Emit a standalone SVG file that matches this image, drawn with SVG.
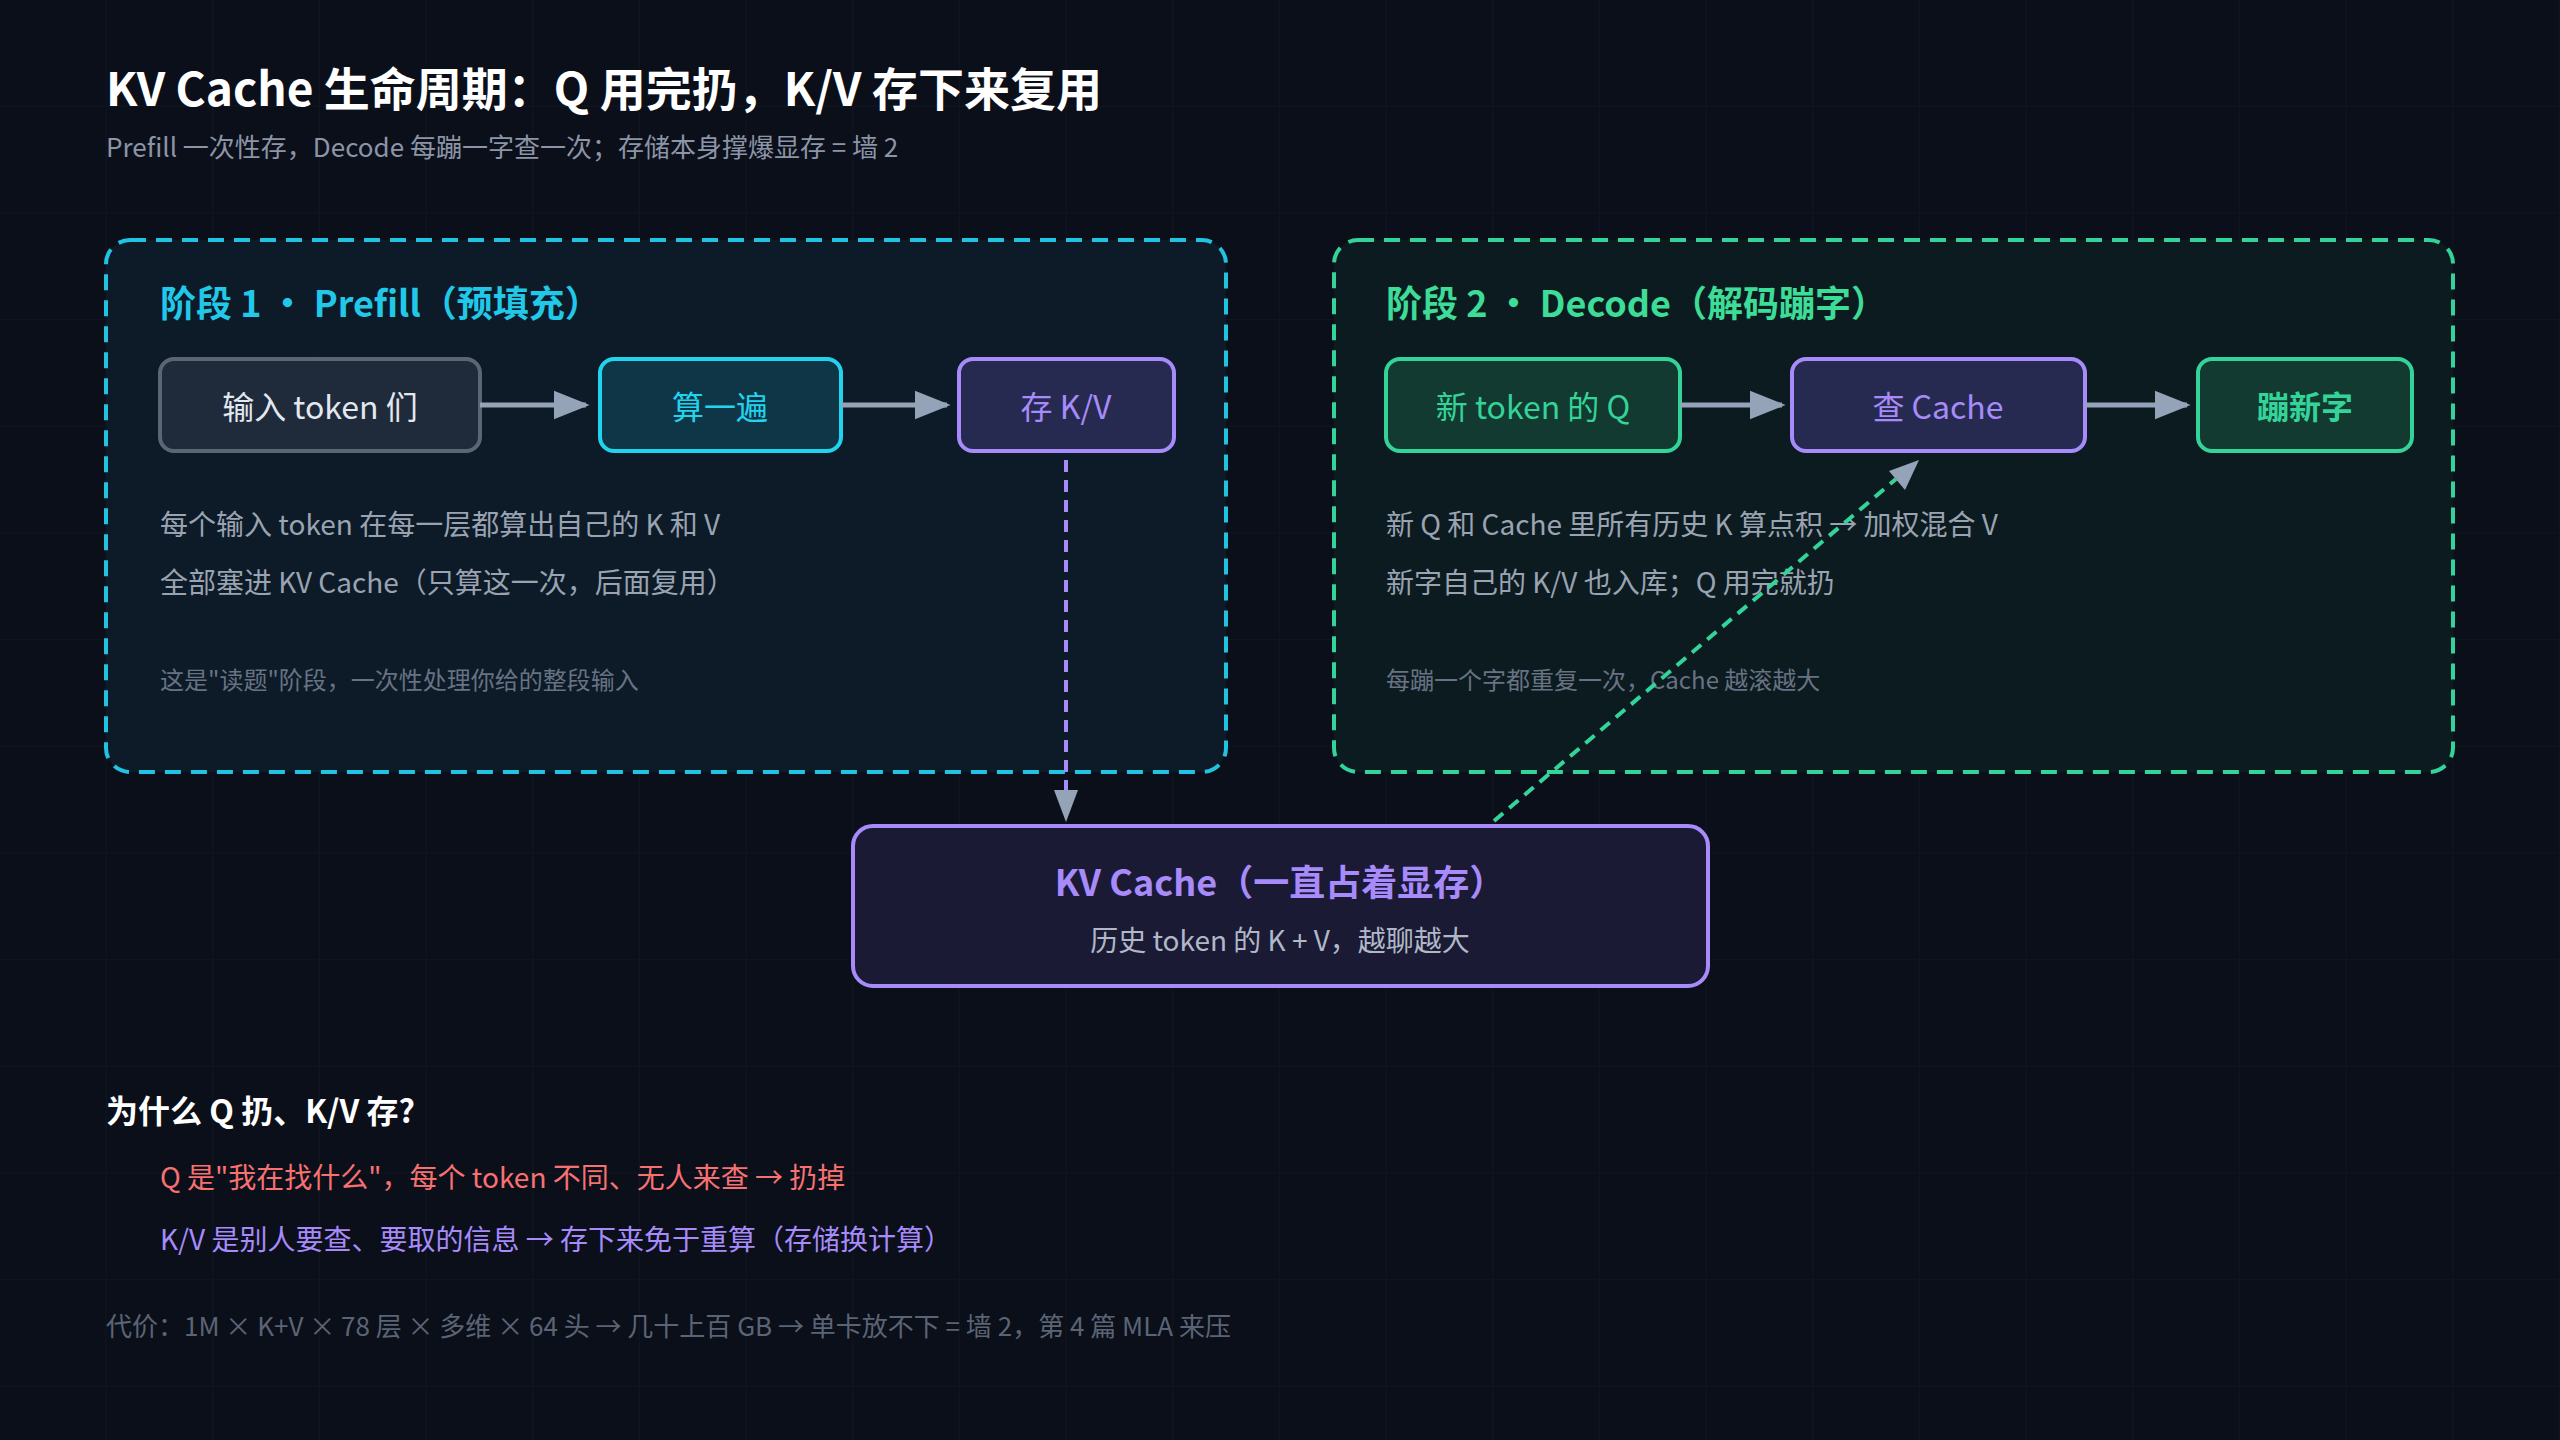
<svg xmlns="http://www.w3.org/2000/svg" width="2560" height="1440" viewBox="0 0 2560 1440">
<defs>
<pattern id="grid" width="106.67" height="106.67" patternUnits="userSpaceOnUse"><path d="M106.67 0V106.67H0" fill="none" stroke="#ffffff" stroke-opacity="0.025" stroke-width="2"/></pattern>
<marker id="ah" viewBox="0 0 10 10" refX="9" refY="5" markerWidth="6" markerHeight="6" markerUnits="userSpaceOnUse" orient="auto"><path d="M0 0L10 5L0 10Z" fill="#94a3b8"/></marker>
<marker id="ahb" viewBox="0 0 10 10" refX="9" refY="5" markerWidth="36" markerHeight="36" markerUnits="userSpaceOnUse" orient="auto"><path d="M0 1L10 5L0 9Z" fill="#94a3b8"/></marker>
<style>
text{font-family:"Noto Sans CJK SC","Noto Sans",sans-serif;dominant-baseline:central}
.box{stroke-width:4}
.lbl{font-size:32px;text-anchor:middle}
.body{font-size:28px;fill:#9aa3b2}
.note{font-size:24px;fill:#687283}
.arrow{stroke:#94a3b8;stroke-width:5;fill:none}
</style>
</defs>
<rect width="2560" height="1440" fill="#0b0f1a"/>
<rect width="2560" height="1440" fill="url(#grid)"/>
<g id="header">
<text x="106" y="86" font-size="46" font-weight="700" fill="#ffffff">KV Cache 生命周期：Q 用完扔，K/V 存下来复用</text>
<text x="106" y="145" font-size="26" fill="#8b95a7">Prefill 一次性存，Decode 每蹦一字查一次；存储本身撑爆显存 = 墙 2</text>
</g>
<g id="phase1">
<rect x="106" y="240" width="1120" height="532" rx="24" fill="#0c1e2a" fill-opacity="0.8" stroke="#22c3e0" stroke-width="4" stroke-dasharray="16 10"/>
<text x="160" y="301" font-size="36" font-weight="700" fill="#22c8e8">阶段 1 · Prefill（预填充）</text>
<text x="160" y="523" class="body">每个输入 token 在每一层都算出自己的 K 和 V</text>
<text x="160" y="581" class="body">全部塞进 KV Cache（只算这一次，后面复用）</text>
<text x="160" y="678" class="note">这是"读题"阶段，一次性处理你给的整段输入</text>
</g>
<g id="phase2">
<rect x="1334" y="240" width="1119" height="532" rx="24" fill="#0c1e22" fill-opacity="0.8" stroke="#34d399" stroke-width="4" stroke-dasharray="16 10"/>
<text x="1386" y="301" font-size="36" font-weight="700" fill="#3ddc97">阶段 2 · Decode（解码蹦字）</text>
<text x="1386" y="523" class="body">新 Q 和 Cache 里所有历史 K 算点积 → 加权混合 V</text>
<text x="1386" y="581" class="body">新字自己的 K/V 也入库；Q 用完就扔</text>
<text x="1386" y="678" class="note">每蹦一个字都重复一次，Cache 越滚越大</text>
</g>
<g id="input-tokens"><rect class="box" x="160" y="359" width="320" height="92" rx="14" fill="#1f2a3a" stroke="#5b6675"/><text class="lbl" x="320" y="405" fill="#e2e8f0">输入 token 们</text></g>
<g id="compute"><rect class="box" x="600" y="359" width="241" height="92" rx="14" fill="#0f3647" stroke="#22d3ee"/><text class="lbl" x="720" y="405" fill="#22d3ee">算一遍</text></g>
<g id="store-kv"><rect class="box" x="959" y="359" width="215" height="92" rx="14" fill="#272a50" stroke="#a78bfa"/><text class="lbl" x="1066" y="405" fill="#a78bfa">存 K/V</text></g>
<g id="new-q"><rect class="box" x="1386" y="359" width="294" height="92" rx="14" fill="#123a30" stroke="#34d399"/><text class="lbl" x="1533" y="405" fill="#34d399">新 token 的 Q</text></g>
<g id="lookup"><rect class="box" x="1792" y="359" width="293" height="92" rx="14" fill="#272a50" stroke="#a78bfa"/><text class="lbl" x="1938" y="405" fill="#a78bfa">查 Cache</text></g>
<g id="emit"><rect class="box" x="2198" y="359" width="214" height="92" rx="14" fill="#123a30" stroke="#34d399"/><text class="lbl" x="2305" y="405" fill="#34d399" font-weight="700">蹦新字</text></g>
<g id="kv-cache">
<rect x="853" y="826" width="855" height="160" rx="20" fill="#1b1a35" stroke="#a78bfa" stroke-width="4"/>
<text x="1280" y="880" font-size="36" font-weight="700" fill="#a78bfa" text-anchor="middle">KV Cache（一直占着显存）</text>
<text x="1280" y="939" font-size="28" fill="#b0b8c8" text-anchor="middle">历史 token 的 K + V，越聊越大</text>
</g>
<g id="connectors">
<line x1="480" y1="405" x2="586" y2="405" class="arrow" marker-end="url(#ahb)"/>
<line x1="841" y1="405" x2="947" y2="405" class="arrow" marker-end="url(#ahb)"/>
<line x1="1680" y1="405" x2="1782" y2="405" class="arrow" marker-end="url(#ahb)"/>
<line x1="2085" y1="405" x2="2187" y2="405" class="arrow" marker-end="url(#ahb)"/>
<line x1="1066" y1="460" x2="1066" y2="790" stroke="#a78bfa" stroke-width="4" stroke-dasharray="12 8"/>
<path d="M1054 790L1078 790L1066 822Z" fill="#94a3b8"/>
<line x1="1494" y1="821" x2="1896" y2="479" stroke="#34d399" stroke-width="4" stroke-dasharray="12 8"/>
<path d="M1919 460L1905 490L1889 471Z" fill="#94a3b8"/>
</g>
<g id="why">
<text x="106" y="1109" font-size="32" font-weight="700" fill="#ffffff">为什么 Q 扔、K/V 存?</text>
<text x="160" y="1176" font-size="28" fill="#f87171">Q 是"我在找什么"，每个 token 不同、无人来查 → 扔掉</text>
<text x="160" y="1238" font-size="28" fill="#a78bfa">K/V 是别人要查、要取的信息 → 存下来免于重算（存储换计算）</text>
<text x="106" y="1324" font-size="26" fill="#5b6475">代价：1M × K+V × 78 层 × 多维 × 64 头 → 几十上百 GB → 单卡放不下 = 墙 2，第 4 篇 MLA 来压</text>
</g>
</svg>
